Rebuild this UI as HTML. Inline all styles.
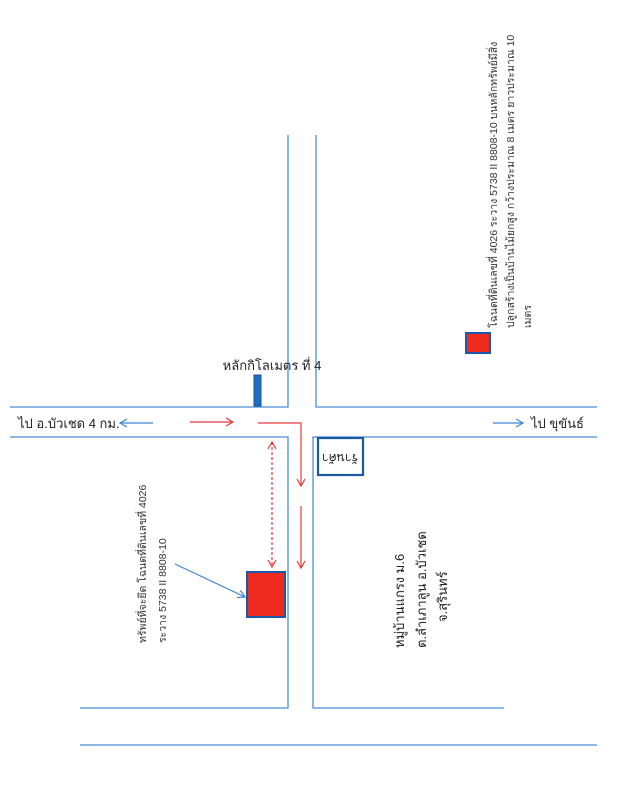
<!DOCTYPE html>
<html><head><meta charset="utf-8"><style>
html,body{margin:0;padding:0;background:#fff}
svg{display:block}
text{font-family:"Liberation Sans","Noto Sans CJK SC",sans-serif;}
</style></head><body>
<svg width="619" height="800" viewBox="0 0 619 800" xmlns="http://www.w3.org/2000/svg">
<defs>
<marker id="ar" markerWidth="10" markerHeight="10" refX="8" refY="5" orient="auto" markerUnits="userSpaceOnUse"><path d="M1,1 L8,5 L1,9" fill="none" stroke="#e8393c" stroke-width="1.2"/></marker>
<marker id="ab" markerWidth="10" markerHeight="10" refX="8" refY="5" orient="auto" markerUnits="userSpaceOnUse"><path d="M1,1 L8,5 L1,9" fill="none" stroke="#3b86d6" stroke-width="1.2"/></marker>
<marker id="ars" markerWidth="10" markerHeight="10" refX="8" refY="5" orient="auto-start-reverse" markerUnits="userSpaceOnUse"><path d="M1,1 L8,5 L1,9" fill="none" stroke="#e8393c" stroke-width="1.2"/></marker>
</defs>
<g stroke="#4a8fd8" stroke-width="1.3" fill="none">
<polyline points="288,135 288,407 10,407"/>
<polyline points="316,135 316,407 597,407"/>
<polyline points="10,437 288,437 288,708 80,708"/>
<polyline points="597,437 313,437 313,708 504,708"/>
<line x1="80" y1="745" x2="597" y2="745"/>
</g>
<rect x="254" y="375" width="7" height="31" fill="#1e6fc0" stroke="#1a4f9a" stroke-width="1"/>
<text x="272" y="370" font-size="13" text-anchor="middle" fill="#222">หลักกิโลเมตร ที่ 4</text>
<rect x="318" y="438" width="45" height="37" fill="#fff" stroke="#1b59a8" stroke-width="2.2"/>
<text transform="translate(340,457) rotate(180)" font-size="12" text-anchor="middle" dominant-baseline="middle" fill="#222">ร้านค้า</text>
<rect x="247" y="572" width="38" height="45" fill="#ee2b1e" stroke="#1b59a8" stroke-width="2"/>
<rect x="466" y="333" width="24" height="20" fill="#ee2b1e" stroke="#1b59a8" stroke-width="2"/>
<line x1="190" y1="422" x2="233" y2="422" stroke="#e8393c" stroke-width="1.2" marker-end="url(#ar)"/>
<polyline points="258,423 301,423 301,486" fill="none" stroke="#e8393c" stroke-width="1.2" marker-end="url(#ar)"/>
<line x1="301" y1="506" x2="301" y2="568" stroke="#e8393c" stroke-width="1.2" marker-end="url(#ar)"/>
<line x1="272" y1="442" x2="272" y2="567" stroke="#e8393c" stroke-width="1.2" stroke-dasharray="3,2" marker-start="url(#ars)" marker-end="url(#ars)"/>
<line x1="153" y1="423" x2="120" y2="423" stroke="#3b86d6" stroke-width="1.2" marker-end="url(#ab)"/>
<line x1="493" y1="423" x2="523" y2="423" stroke="#3b86d6" stroke-width="1.2" marker-end="url(#ab)"/>
<line x1="175" y1="564" x2="245" y2="597" stroke="#3b86d6" stroke-width="1.2" marker-end="url(#ab)"/>
<text x="18" y="428" font-size="13" fill="#222">ไป อ.บัวเชด 4 กม.</text>
<text x="531" y="428" font-size="13" fill="#222">ไป ขุขันธ์</text>
<g font-size="10.5" fill="#333">
<text transform="translate(146,643) rotate(-90)">ทรัพย์ที่จะยึด โฉนดที่ดินเลขที่ 4026</text>
<text transform="translate(166,643) rotate(-90)">ระวาง 5738 II 8808-10</text>
<text transform="translate(497,328) rotate(-90)">โฉนดที่ดินเลขที่ 4026  ระวาง  5738 II 8808-10  บนหลักทรัพย์มีสิ่ง</text>
<text transform="translate(514,328) rotate(-90)">ปลูกสร้างเป็นบ้านไม้ยกสูง  กว้างประมาณ 8 เมตร ยาวประมาณ 10</text>
<text transform="translate(531,328) rotate(-90)">เมตร</text>
</g>
<g font-size="13" fill="#222">
<text transform="translate(404,648) rotate(-90)">หมู่บ้านแกรง ม.6</text>
<text transform="translate(426,648) rotate(-90)">ต.ลำเภาลูน อ.บัวเชด</text>
<text transform="translate(447,622) rotate(-90)">จ.สุรินทร์</text>
</g>
</svg>
</body></html>
